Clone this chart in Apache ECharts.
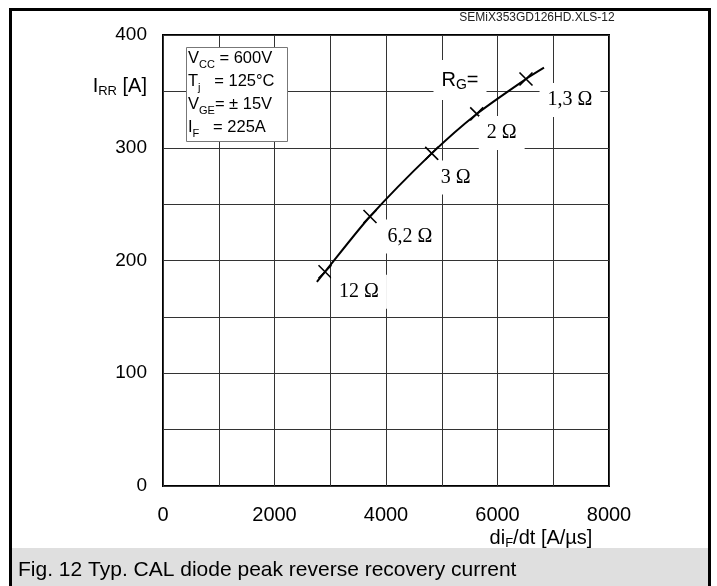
<!DOCTYPE html>
<html><head><meta charset="utf-8">
<script src="https://cdn.jsdelivr.net/npm/echarts@6/dist/echarts.min.js"></script>
<style>html,body{margin:0;padding:0;background:#fff}#c{width:717px;height:586px}</style>
</head><body><div id="c"></div>
<script>
// ---- data ----
const xTickLabels = [0, 2000, 4000, 6000, 8000];
const yTickLabels = [0, 100, 200, 300, 400];
const curveX = [2760, 2906, 3713, 4820, 5627, 6511, 6834];
const curveY = [181, 190, 239, 295, 330, 361, 371];
const rgNames = ['12 Ω', '6,2 Ω', '3 Ω', '2 Ω', '1,3 Ω'];
const rgX = [2906, 3713, 4820, 5627, 6511];
const rgY = [190, 239, 295, 330, 361];
const condLabels = [['V', 'CC', ' = 600V'], ['T', 'j', '   = 125°C'], ['V', 'GE', '= ± 15V'], ['I', 'F', '   = 225A']];
const chartId = 'SEMiX353GD126HD.XLS-12';
const caption = 'Fig. 12 Typ. CAL diode peak reverse recovery current';

// ---- styles ----
const labelOffsets = [[34, 20], [40, 20], [24, 24], [25, 19], [44, 21]];
const SANS = '"Liberation Sans", Arial, sans-serif';
const SERIF = '"Liberation Serif", "Times New Roman", serif';

const chart = echarts.init(document.getElementById('c'), null, {renderer: 'canvas'});
const curve = curveX.map((x, i) => [x, curveY[i]]);
const markers = rgX.map((x, i) => ({
  value: [x, rgY[i]], name: rgNames[i],
  label: {offset: labelOffsets[i]}
}));
const condText = condLabels.map(c => '{a|' + c[0] + '}{s|' + c[1] + '}{a|' + c[2] + '}').join('\n');

chart.setOption({
  animation: false,
  grid: {left: 163, right: 108, top: 35, bottom: 100, show: true, borderColor: '#000', borderWidth: 2, backgroundColor: 'transparent'},
  xAxis: {
    type: 'value', min: 0, max: 8000, interval: 1000,
    axisLine: {show: false}, axisTick: {show: false},
    splitLine: {show: true, lineStyle: {color: '#333', width: 1}},
    axisLabel: {
      margin: 19, color: '#000', fontFamily: SANS, fontSize: 20,
      formatter: v => xTickLabels.includes(v) ? String(v) : ''
    }
  },
  yAxis: {
    type: 'value', min: 0, max: 400, interval: 50,
    axisLine: {show: false}, axisTick: {show: false},
    splitLine: {show: true, lineStyle: {color: '#333', width: 1}},
    axisLabel: {
      margin: 16, color: '#000', fontFamily: SANS, fontSize: 19,
      formatter: v => yTickLabels.includes(v) ? String(v) : ''
    }
  },
  series: [
    {
      type: 'line', data: curve, smooth: 0.25, showSymbol: false, z: 3,
      lineStyle: {color: '#000', width: 2}
    },
    {
      type: 'scatter', data: markers, z: 4,
      symbol: 'path://M0,0L10,10M10,0L0,10', symbolSize: 13,
      itemStyle: {color: 'none', borderColor: '#000', borderWidth: 1.6, opacity: 1},
      label: {
        show: true, position: 'inside', formatter: p => p.name,
        color: '#000', fontFamily: SERIF, fontSize: 20,
        backgroundColor: '#fff', padding: [7, 8]
      }
    }
  ],
  graphic: [
    // outer frame
    {type: 'rect', shape: {x: 12, y: 548, width: 696, height: 40}, style: {fill: '#dfdfdf'}, z: -1},
    {type: 'polyline', shape: {points: [[10.5, 590], [10.5, 9.5], [709.5, 9.5], [709.5, 590]]}, style: {stroke: '#000', lineWidth: 3, fill: null}},
    {type: 'text', x: 18, y: 570, style: {text: caption, font: '21px ' + SANS, fill: '#000', verticalAlign: 'middle'}},
    {type: 'text', x: 537, y: 17.5, style: {text: chartId, font: '12px ' + SANS, fill: '#222', align: 'center', verticalAlign: 'middle'}},
    // info box
    {type: 'rect', shape: {x: 186.5, y: 47.5, width: 101, height: 94}, style: {fill: '#fff', stroke: '#777', lineWidth: 1}, z: 10},
    {type: 'text', x: 188, y: 47, z: 11, style: {text: condText, fill: '#000',
      rich: {a: {fontFamily: SANS, fontSize: 16.5, lineHeight: 23, fill: '#000'}, s: {fontFamily: SANS, fontSize: 11, lineHeight: 14, verticalAlign: 'bottom', fill: '#000'}}}},
    // axis names
    {type: 'text', x: 147, y: 86, z: 11, style: {text: '{a|I}{s|RR}{a| [A]}', align: 'right', verticalAlign: 'middle',
      rich: {a: {fontFamily: SANS, fontSize: 20, lineHeight: 24, fill: '#000'}, s: {fontFamily: SANS, fontSize: 13, lineHeight: 16, verticalAlign: 'bottom', fill: '#000'}}}},
    {type: 'text', x: 541, y: 538, z: 11, style: {text: '{a|di}{s|F}{a|/dt [A/µs]}', align: 'center', verticalAlign: 'middle',
      rich: {a: {fontFamily: SANS, fontSize: 20, lineHeight: 24, fill: '#000'}, s: {fontFamily: SANS, fontSize: 13, lineHeight: 16, verticalAlign: 'bottom', fill: '#000'}}}},
    // R_G=
    {type: 'text', x: 460, y: 80, z: 11, style: {text: '{a|R}{s|G}{a|=}', align: 'center', verticalAlign: 'middle',
      backgroundColor: '#fff', padding: [8, 8],
      rich: {a: {fontFamily: SANS, fontSize: 20, lineHeight: 24, fill: '#000'}, s: {fontFamily: SANS, fontSize: 14, lineHeight: 17, verticalAlign: 'bottom', fill: '#000'}}}}
  ]
});
</script></body></html>
